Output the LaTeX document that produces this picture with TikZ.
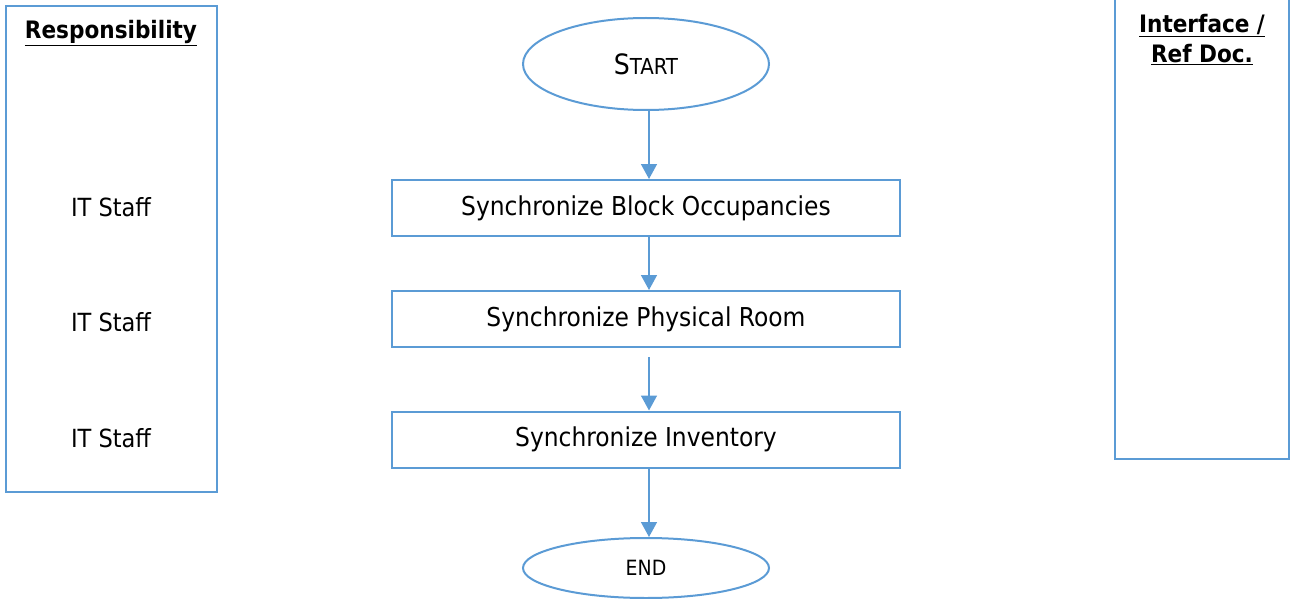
\documentclass[tikz,border=0pt]{standalone}
\usepackage{fontspec}
\setmainfont{DejaVu Sans Condensed}
\usetikzlibrary{arrows.meta,shapes.geometric}
\definecolor{flowblue}{HTML}{5B9BD5}

\begin{document}
\begin{tikzpicture}[x=1pt,y=-1pt,line width=2pt,
  step box/.style={draw=flowblue,minimum width=508pt,minimum height=56pt,
    inner sep=0pt,font=\fontsize{26}{30}\selectfont},
  term/.style={draw=flowblue,ellipse,minimum width=246pt,inner sep=0pt},
  who/.style={font=\fontsize{25}{30}\selectfont},
  head/.style={align=center,font=\bfseries\fontsize{24}{30}\selectfont},
  flow/.style={draw=flowblue,line width=1.5pt,-{Triangle[width=16pt,length=15pt]}}]
 \useasboundingbox (0,0) rectangle (1290,599);
 \clip (0,0) rectangle (1290,599);
 % side columns
 \draw[flowblue] (6,6) rectangle (217,492);
 \draw[flowblue] (1115,-5) rectangle (1289,459);
 \node[head] (resp) at (111,33) {\underline{Responsibility}};
 \node[head] (iface) at (1202,40) {\underline{Interface /}\\\underline{Ref Doc.}};
 % flow
 \node[term,minimum height=92pt] (start) at (646,64)
  {{\fontsize{28}{30}\selectfont S}{\fontsize{22}{30}\selectfont TART}};
 \node[step box] (block) at (646,208) {Synchronize Block Occupancies};
 \node[step box] (room) at (646,319) {Synchronize Physical Room};
 \node[step box] (inv) at (646,439.5) {Synchronize Inventory};
 \node[term,minimum height=60pt,font=\fontsize{21}{24}\selectfont] (end) at (646,568) {END};
 \node[who] (who1) at (111,207) {IT Staff};
 \node[who] (who2) at (111,322) {IT Staff};
 \node[who] (who3) at (111,438) {IT Staff};
 \draw[flow] ([xshift=3pt]start.south) -- ([xshift=3pt]block.north);
 \draw[flow] ([xshift=3pt]block.south) -- ([xshift=3pt]room.north);
 \draw[flow,shorten <=9pt] ([xshift=3pt]room.south) -- ([xshift=3pt]inv.north);
 \draw[flow] ([xshift=3pt]inv.south) -- ([xshift=3pt]end.north);
\end{tikzpicture}
\end{document}
